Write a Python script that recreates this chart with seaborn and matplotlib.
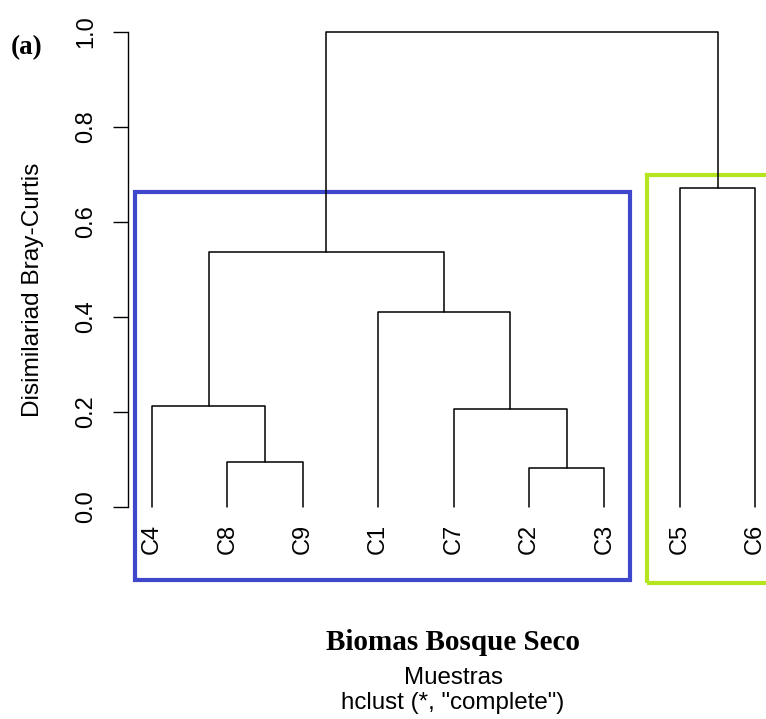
import pandas as pd
import seaborn as sns
import matplotlib
matplotlib.use("Agg")
import matplotlib.pyplot as plt
from matplotlib.patches import Rectangle

# Leaf order of the dendrogram (left to right)
leaf_labels = ["C4", "C8", "C9", "C1", "C7", "C2", "C3", "C5", "C6"]

# Merge steps, R hclust style: negative = leaf (1-based in leaf_labels), positive = earlier merge
merge_left = [-6, -2, -5, -1, -4, 4, -8, 6]
merge_right = [-7, -3, 1, 2, 3, 5, -9, 7]
merge_heights = [0.082, 0.095, 0.206, 0.213, 0.410, 0.537, 0.672, 1.0]

y_ticks = [0.0, 0.2, 0.4, 0.6, 0.8, 1.0]

# Cluster boxes drawn over the tree: (x0, x1, y0, y1, colour)
boxes = [
    (0.775, 7.34, -0.154, 0.663, "#3F48CC"),
    (7.565, 9.6, -0.160, 0.699, "#B5E61D"),
]


def build_segments():
    # leaf x positions 1..n, leaf height 0 (hang = -1)
    node_x = {}
    node_h = {}
    rows = []

    def get(idx):
        if idx < 0:
            return float(-idx), 0.0
        return node_x[idx], node_h[idx]

    for i, (a, b, h) in enumerate(zip(merge_left, merge_right, merge_heights), start=1):
        xa, ha = get(a)
        xb, hb = get(b)
        for k, (x, y) in enumerate([(xa, ha), (xa, h), (xb, h), (xb, hb)]):
            rows.append({"seg": i, "order": k, "x": x, "y": y})
        node_x[i] = (xa + xb) / 2
        node_h[i] = h
    return pd.DataFrame(rows)


def plot_dendrogram(seg_df):
    sns.set_style("white")
    plt.rcParams["font.family"] = ["Liberation Sans", "DejaVu Sans"]
    plt.rcParams["text.color"] = "black"
    plt.rcParams["ytick.color"] = "black"

    fig = plt.figure(figsize=(7.66, 7.19), dpi=100)
    ax = fig.add_axes([128 / 766, 1 - 507 / 719, 638 / 766, 475 / 719])

    sns.lineplot(data=seg_df, x="x", y="y", units="seg", estimator=None, sort=False,
                 color="black", linewidth=1.1, ax=ax, legend=False)
    for line in ax.get_lines():
        line.set_clip_on(False)

    ax.set_xlim(0.682, 9.143)
    ax.set_ylim(0, 1)

    # leaf labels
    for i, lab in enumerate(leaf_labels, start=1):
        ax.text(i, -0.036, lab, rotation=90, ha="center", va="top", fontsize=17)

    # cluster rectangles
    for x0, x1, y0, y1, col in boxes:
        ax.add_patch(Rectangle((x0, y0), x1 - x0, y1 - y0, fill=False,
                               edgecolor=col, linewidth=3, clip_on=False))

    # axis styling (R base look)
    for side in ["top", "right", "bottom"]:
        ax.spines[side].set_visible(False)
    ax.spines["left"].set_bounds(0, 1)
    ax.spines["left"].set_color("black")
    ax.spines["left"].set_linewidth(1)
    ax.set_xticks([])
    ax.set_yticks(y_ticks)
    ax.set_yticklabels([f"{v:.1f}" for v in y_ticks], fontsize=17)
    ax.tick_params(axis="y", length=10.5, width=1, color="black", labelcolor="black",
                   pad=12, left=True)
    for lab in ax.get_yticklabels():
        lab.set_rotation(90)
        lab.set_va("center")
        lab.set_ha("right")
    ax.set_xlabel("")
    ax.set_ylabel("")

    fig.text(33 / 766, 1 - 290 / 719, "Disimilariad Bray-Curtis", rotation=90,
             ha="center", va="center", fontsize=17.6)
    fig.text(27 / 766, 1 - 48 / 719, "(a)", family="Liberation Serif",
             fontweight="bold", ha="center", va="center", fontsize=19.5)
    fig.text(453 / 766, 1 - 643 / 719, "Biomas Bosque Seco", family="Liberation Serif",
             fontweight="bold", ha="center", va="center", fontsize=21)
    fig.text(453 / 766, 1 - 678 / 719, "Muestras", ha="center", va="center", fontsize=17.4)
    fig.text(453 / 766, 1 - 703 / 719, 'hclust (*, "complete")', ha="center",
             va="center", fontsize=17.4)

    fig.savefig("out.png", dpi=100)


if __name__ == "__main__":
    seg_df = build_segments()
    plot_dendrogram(seg_df)
